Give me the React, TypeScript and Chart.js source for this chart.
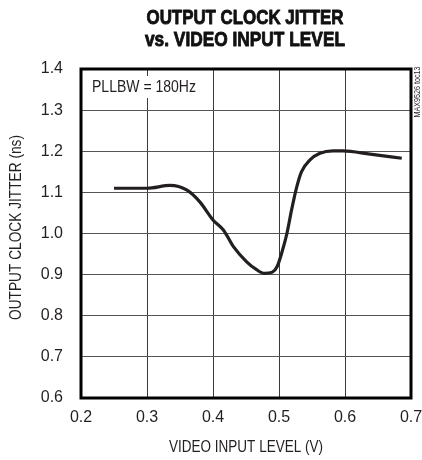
import React, { useEffect, useRef } from "react";
import { Chart, registerables } from "chart.js";

Chart.register(...registerables);

const inputLevel = [0.25, 0.30, 0.335, 0.36, 0.38, 0.40, 0.416, 0.431, 0.451, 0.466, 0.478, 0.49, 0.497, 0.504, 0.512, 0.519, 0.527, 0.534, 0.547, 0.562, 0.582, 0.597, 0.638, 0.686];
const jitter = [1.11, 1.11, 1.117, 1.106, 1.077, 1.033, 1.008, 0.968, 0.931, 0.912, 0.903, 0.906, 0.919, 0.952, 1.0, 1.057, 1.114, 1.15, 1.179, 1.195, 1.201, 1.201, 1.193, 1.183];

const titleLines = ["OUTPUT CLOCK JITTER", "vs. VIDEO INPUT LEVEL"];
const xTitle = "VIDEO INPUT LEVEL (V)";
const yTitle = "OUTPUT CLOCK JITTER (ns)";
const note = "PLLBW = 180Hz";
const sideNote = "MAX9526 toc13";

const NARROW = '"Liberation Sans Narrow", "Liberation Sans", Arial, sans-serif';

function fitText(ctx: CanvasRenderingContext2D, text: string, x: number, y: number, width: number, font: string, stroke = 0) {
  ctx.save();
  ctx.font = font;
  const w = ctx.measureText(text).width;
  ctx.translate(x, y);
  ctx.scale(width / w, 1);
  ctx.textAlign = "center";
  ctx.textBaseline = "middle";
  ctx.fillText(text, 0, 0);
  if (stroke > 0) {
    ctx.strokeStyle = ctx.fillStyle as string;
    ctx.lineWidth = stroke;
    ctx.lineJoin = "round";
    ctx.strokeText(text, 0, 0);
  }
  ctx.restore();
}

const decorPlugin = {
  id: "decor",
  beforeDatasetsDraw(chart: any) {
    const { ctx, chartArea } = chart;
    ctx.save();
    ctx.fillStyle = "#ffffff";
    ctx.fillRect(chartArea.left + 10, chartArea.top + 7, 105, 22);
    ctx.fillStyle = "#231f20";
    fitText(ctx, note, chartArea.left + 63, chartArea.top + 18.5, 104, `16px ${NARROW}`);
    ctx.restore();
  },
  afterDraw(chart: any) {
    const { ctx, chartArea } = chart;
    ctx.save();
    ctx.fillStyle = "#111111";
    fitText(ctx, titleLines[0], 245, 18, 197, `bold 21px ${NARROW}`, 0.9);
    fitText(ctx, titleLines[1], 245, 40, 200, `bold 21px ${NARROW}`, 0.9);
    ctx.fillStyle = "#231f20";
    const cx = (chartArea.left + chartArea.right) / 2;
    fitText(ctx, xTitle, cx, 447, 154, `17px ${NARROW}`);
    ctx.save();
    ctx.translate(17, 227.5);
    ctx.rotate(-Math.PI / 2);
    fitText(ctx, yTitle, 0, 0, 185, `16px ${NARROW}`);
    ctx.restore();
    ctx.strokeStyle = "#000000";
    ctx.lineWidth = 3;
    ctx.strokeRect(chartArea.left, chartArea.top, chartArea.right - chartArea.left, chartArea.bottom - chartArea.top);
    ctx.save();
    ctx.fillStyle = "#231f20";
    ctx.translate(417.5, 92);
    ctx.rotate(-Math.PI / 2);
    fitText(ctx, sideNote, 0, 0, 51, `9px ${NARROW}`);
    ctx.restore();
    ctx.restore();
  },
};

export default function App() {
  const ref = useRef<HTMLCanvasElement | null>(null);
  useEffect(() => {
    if (!ref.current) return;
    const chart = new Chart(ref.current, {
      type: "line",
      data: {
        datasets: [
          {
            data: inputLevel.map((x, i) => ({ x, y: jitter[i] })),
            borderColor: "#231f20",
            borderWidth: 3.2,
            pointRadius: 0,
            cubicInterpolationMode: "monotone",
            fill: false,
          },
        ],
      },
      options: {
        animation: false,
        responsive: false,
        layout: { padding: { top: 69, right: 11, left: 0, bottom: 0 } },
        plugins: { legend: { display: false }, title: { display: false }, tooltip: { enabled: false } },
        scales: {
          x: {
            type: "linear",
            min: 0.2,
            max: 0.7,
            afterFit: (s: any) => { s.height = 62; s.paddingLeft = 0; s.paddingRight = 0; },
            ticks: {
              stepSize: 0.1,
              color: "#231f20",
              font: { family: NARROW, size: 16 },
              padding: 10,
              callback: (v: any) => Number(v).toFixed(1),
            },
            grid: { color: "#3a3a3a", lineWidth: 1, drawTicks: false },
            border: { display: false },
          },
          y: {
            type: "linear",
            min: 0.6,
            max: 1.4,
            afterFit: (s: any) => { s.width = 81; s.paddingTop = 0; s.paddingBottom = 0; },
            ticks: {
              stepSize: 0.1,
              color: "#231f20",
              font: { family: NARROW, size: 16 },
              padding: 18,
              callback: (v: any) => Number(v).toFixed(1),
            },
            grid: { color: "#555555", lineWidth: 1, drawTicks: false },
            border: { display: false },
          },
        },
      },
      plugins: [decorPlugin],
    });
    return () => chart.destroy();
  }, []);
  return (
    <div style={{ position: "fixed", left: 0, top: 0, width: 422, height: 460, background: "#fff" }}>
      <canvas ref={ref} width={422} height={460} style={{ width: 422, height: 460 }} />
    </div>
  );
}
